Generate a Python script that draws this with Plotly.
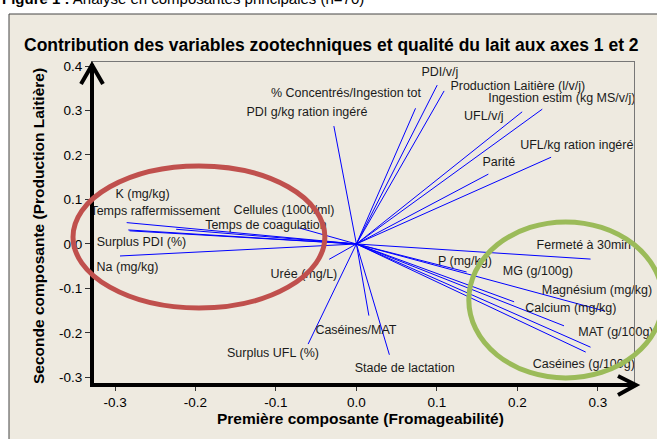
import plotly.graph_objects as go

# ---- data ----
variables = [
    "PDI/v/j", "Production Laitière (l/v/j)", "Ingestion estim (kg MS/v/j)", "UFL/v/j",
    "UFL/kg ration ingéré", "Parité", "% Concentrés/Ingestion tot", "PDI g/kg ration ingéré",
    "K (mg/kg)", "Temps raffermissement", "Cellules (1000/ml)", "Temps de coagulation",
    "Surplus PDI (%)", "Na (mg/kg)", "Urée (mg/L)", "Surplus UFL (%)", "Caséines/MAT",
    "Stade de lactation", "Fermeté à 30min", "P (mg/kg)", "MG (g/100g)",
    "Magnésium (mg/kg)", "Calcium (mg/kg)", "MAT (g/100g)", "Caséines (g/100g)",
]
pc1 = [0.1004, 0.109, 0.231, 0.206, 0.242, 0.164, 0.0735, -0.028,
       -0.2855, -0.2835, -0.0723, -0.224, -0.282, -0.2938, -0.0338, -0.060, 0.0155,
       0.041, 0.291, 0.137, 0.196, 0.309, 0.258, 0.291, 0.285]
pc2 = [0.357, 0.344, 0.303, 0.297, 0.195, 0.157, 0.305, 0.265,
       0.048, 0.0315, 0.0366, 0.033, 0.0295, -0.027, -0.0344, -0.225, -0.161,
       -0.249, -0.034, -0.063, -0.130, -0.151, -0.184, -0.232, -0.243]
label_x = [0.1037, 0.2006, 0.2553, 0.1584, 0.2739, 0.177, -0.013, -0.0615,
           -0.2658, -0.250, -0.090, -0.1124, -0.2671, -0.2845, -0.0652, -0.1037, -0.0006,
           0.060, 0.2826, 0.1348, 0.2255, 0.2990, 0.2665, 0.3225, 0.2826]
label_y = [0.384, 0.353, 0.326, 0.285, 0.220, 0.182, 0.337, 0.294,
           0.110, 0.072, 0.074, 0.040, 0.002, -0.054, -0.070, -0.247, -0.196,
           -0.281, -0.0045, -0.040, -0.063, -0.106, -0.146, -0.200, -0.272]
x_ticks = [-0.3, -0.2, -0.1, 0.0, 0.1, 0.2, 0.3]
x_tick_text = ["-0.3", "-0.2", "-0.1", "0.0", "0.1", "0.2", "0.3"]
y_ticks = [-0.3, -0.2, -0.1, 0.0, 0.1, 0.2, 0.3, 0.4]
y_tick_text = ["-0.3", "-0.2", "-0.1", "0.0", "0.1", "0.2", "0.3", "0.4"]

# groups highlighted by ellipses (centre x, centre y, half-width, half-height) in data units
groups = [(-0.1957, 0.0157, 0.1565, 0.1596, "#C0504D"),
          (0.2602, -0.1258, 0.1205, 0.1753, "#9BBB59")]

X_RANGE = [-0.3286, 0.345]
Y_RANGE = [-0.317, 0.409]
W, H = 657, 439
ML, MR, MT, MB = 92, 23, 62, 54
PW, PH = W - ML - MR, H - MT - MB

def px_x(px):
    return (px - ML) / PW

def px_y(py):
    return (H - MB - py) / PH

def dx_paper(x):
    return (x - X_RANGE[0]) / (X_RANGE[1] - X_RANGE[0])

def dy_paper(y):
    return (y - Y_RANGE[0]) / (Y_RANGE[1] - Y_RANGE[0])

FONT = "Liberation Sans, Arial, sans-serif"

xs, ys = [], []
for a, b in zip(pc1, pc2):
    xs += [0, a, None]
    ys += [0, b, None]

fig = go.Figure()
fig.add_trace(go.Scatter(x=xs, y=ys, mode="lines",
                         line=dict(color="#0000FF", width=1), hoverinfo="skip",
                         showlegend=False))
fig.add_trace(go.Scatter(x=label_x, y=label_y, mode="text", text=variables,
                         textposition="middle center", cliponaxis=False,
                         textfont=dict(family=FONT, size=12.5, color="#1a1a1a"),
                         showlegend=False, hoverinfo="skip"))

shapes = []
# beige panel
shapes.append(dict(type="rect", xref="paper", yref="paper",
                   x0=px_x(9), x1=px_x(700), y0=px_y(470), y1=px_y(14),
                   fillcolor="#EEEAE0", line=dict(color="#444444", width=1), layer="below"))
# thick black axes with arrows
shapes.append(dict(type="line", xref="paper", yref="paper",
                   x0=px_x(92), x1=px_x(92), y0=px_y(386), y1=px_y(64),
                   line=dict(color="black", width=4), layer="above"))
shapes.append(dict(type="line", xref="paper", yref="paper",
                   x0=px_x(90), x1=px_x(634), y0=px_y(385), y1=px_y(385),
                   line=dict(color="black", width=4), layer="above"))
shapes.append(dict(type="path", xref="paper", yref="paper",
                   path=f"M {px_x(81)},{px_y(84)} L {px_x(92)},{px_y(65)} L {px_x(103)},{px_y(84)}",
                   line=dict(color="black", width=4), layer="above"))
shapes.append(dict(type="path", xref="paper", yref="paper",
                   path=f"M {px_x(618)},{px_y(376)} L {px_x(636)},{px_y(385)} L {px_x(618)},{px_y(395)}",
                   line=dict(color="black", width=4), layer="above"))
for cx, cy, rx, ry, col in groups:
    shapes.append(dict(type="circle", xref="paper", yref="paper",
                       x0=dx_paper(cx - rx), x1=dx_paper(cx + rx),
                       y0=dy_paper(cy - ry), y1=dy_paper(cy + ry),
                       line=dict(color=col, width=5), layer="above"))

annotations = [
    dict(text="<b>Figure 1 :</b> Analyse en composantes principales (n=70)",
         xref="paper", yref="paper", x=px_x(0), y=px_y(9), xanchor="left", yanchor="bottom",
         showarrow=False, font=dict(family=FONT, size=15, color="black")),
    dict(text="<b>Contribution des variables zootechniques et qualité du lait aux axes 1 et 2</b>",
         xref="paper", yref="paper", x=px_x(331), y=px_y(45), xanchor="center", yanchor="middle",
         showarrow=False, font=dict(family=FONT, size=17.5, color="black")),
    dict(text="<b>Première composante (Fromageabilité)</b>",
         xref="paper", yref="paper", x=px_x(360), y=px_y(419), xanchor="center", yanchor="middle",
         showarrow=False, font=dict(family=FONT, size=15.5, color="black")),
    dict(text="<b>Seconde composante (Production Laitière)</b>",
         xref="paper", yref="paper", x=px_x(38), y=px_y(226), xanchor="center", yanchor="middle",
         textangle=-90, showarrow=False, font=dict(family=FONT, size=15.5, color="black")),
]

fig.update_layout(
    width=W, height=H, autosize=False,
    margin=dict(l=ML, r=MR, t=MT, b=MB, pad=0),
    paper_bgcolor="white", plot_bgcolor="white",
    shapes=shapes, annotations=annotations,
    xaxis=dict(range=X_RANGE, tickvals=x_ticks, ticktext=x_tick_text, ticks="outside",
               ticklen=5, tickcolor="#333333", showgrid=False, zeroline=False,
               showline=True, mirror=True, linecolor="#777777", linewidth=1,
               tickfont=dict(family=FONT, size=13.5, color="black")),
    yaxis=dict(range=Y_RANGE, tickvals=y_ticks, ticktext=y_tick_text, ticks="outside",
               ticklen=6, tickcolor="#333333", showgrid=False, zeroline=False,
               showline=True, mirror=True, linecolor="#777777", linewidth=1,
               tickfont=dict(family=FONT, size=13.5, color="black")),
)

fig.write_html("out.html", config={"displayModeBar": False},
               post_script="document.body.style.margin='0';")
